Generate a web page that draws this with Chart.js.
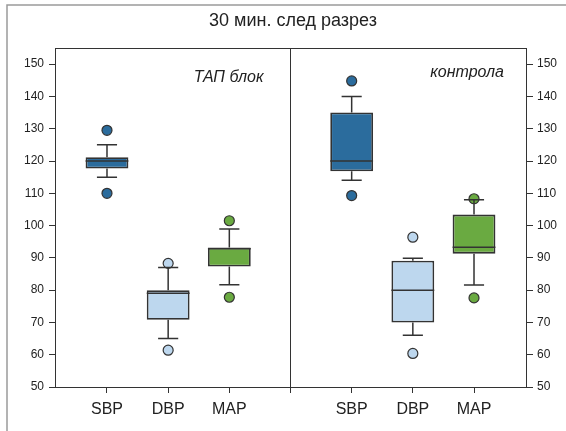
<!DOCTYPE html>
<html>
<head>
<meta charset="utf-8">
<script src="https://cdn.jsdelivr.net/npm/chart.js@4/dist/chart.umd.min.js"></script>
<style>
  body { margin: 0; background: #fff; }
  canvas { display: block; }
</style>
</head>
<body>
<canvas id="box" width="566" height="431"></canvas>
<script>
// data
const categories = ["SBP", "DBP", "MAP"];
const groupNames = ["ТАП блок", "контрола"];
const titleText = "30 мин. след разрез";

// ТАП блок
const tapLow = [115, 65, 81.7];
const tapQ1 = [117.7, 70.8, 87.3];
const tapMed = [120, 79, 92.8];
const tapQ3 = [121.2, 80, 93.2];
const tapHigh = [125, 87, 98.9];
const tapOutLow = [110, 61.4, 77.8];
const tapOutHigh = [129.5, 88.3, 101.5];

// контрола
const ctrlLow = [114, 66, 81.6];
const ctrlQ1 = [116.8, 70, 91.3];
const ctrlMed = [120, 80, 93.3];
const ctrlQ3 = [135, 89.1, 103.4];
const ctrlHigh = [140, 89.9, 108];
const ctrlOutLow = [109.3, 60.4, 77.6];
const ctrlOutHigh = [144.8, 96.4, 108.3];

const yTicks = [50, 60, 70, 80, 90, 100, 110, 120, 130, 140, 150];

const colors = ["#2b6c9d", "#bdd7ee", "#6aaa41"];
const edge = "#333333";

// x slots: group 1 at 1..3, divider at 4, group 2 at 5..7
const xTap = [1, 2, 3];
const xCtrl = [5, 6, 7];
const dividerAt = 4;
const xs = xTap.concat(xCtrl);

const low = tapLow.concat(ctrlLow);
const q1 = tapQ1.concat(ctrlQ1);
const med = tapMed.concat(ctrlMed);
const q3 = tapQ3.concat(ctrlQ3);
const high = tapHigh.concat(ctrlHigh);
const outLow = tapOutLow.concat(ctrlOutLow);
const outHigh = tapOutHigh.concat(ctrlOutHigh);
const boxColors = colors.concat(colors);

const font = "'Liberation Sans', Arial, sans-serif";

const boxData = xs.map((x, i) => ({ x: x, y: [q1[i], q3[i]] }));
const outData = [];
const outColors = [];
xs.forEach((x, i) => {
  outData.push({ x: x, y: outLow[i] });
  outColors.push(boxColors[i]);
  outData.push({ x: x, y: outHigh[i] });
  outColors.push(boxColors[i]);
});

const whiskers = {
  id: "whiskers",
  beforeDraw(chart) {
    const c = chart.ctx;
    c.save();
    c.strokeStyle = "#9a9a9a";
    c.lineWidth = 1.5;
    c.beginPath();
    c.moveTo(7, 431);
    c.lineTo(7, 5);
    c.lineTo(566, 5);
    c.stroke();
    c.fillStyle = "#222";
    c.font = "18px " + font;
    c.textAlign = "center";
    c.textBaseline = "middle";
    c.fillText(titleText, 293, 21);
    c.restore();
  },
  afterDatasetsDraw(chart) {
    const c = chart.ctx;
    const x = chart.scales.x;
    const y = chart.scales.y;
    const bars = chart.getDatasetMeta(1).data;
    c.save();
    c.strokeStyle = edge;
    c.lineWidth = 1.5;
    xs.forEach((v, i) => {
      const px = x.getPixelForValue(v);
      const w = bars[i].width;
      const cap = w * 0.235;
      c.beginPath();
      c.moveTo(px, y.getPixelForValue(q3[i]));
      c.lineTo(px, y.getPixelForValue(high[i]));
      c.moveTo(px, y.getPixelForValue(q1[i]));
      c.lineTo(px, y.getPixelForValue(low[i]));
      c.moveTo(px - cap, y.getPixelForValue(high[i]));
      c.lineTo(px + cap, y.getPixelForValue(high[i]));
      c.moveTo(px - cap, y.getPixelForValue(low[i]));
      c.lineTo(px + cap, y.getPixelForValue(low[i]));
      c.moveTo(px - w / 2, y.getPixelForValue(med[i]));
      c.lineTo(px + w / 2, y.getPixelForValue(med[i]));
      c.stroke();
    });
    // top edge of the plot
    const a = chart.chartArea;
    c.lineWidth = 1;
    c.beginPath();
    c.moveTo(a.left, a.top + 0.5);
    c.lineTo(a.right, a.top + 0.5);
    c.stroke();
    // panel labels
    c.fillStyle = "#222";
    c.font = "italic 16px " + font;
    c.textAlign = "right";
    c.textBaseline = "alphabetic";
    c.fillText(groupNames[0], x.getPixelForValue(dividerAt) - 27, 82);
    c.fillText(groupNames[1], a.right - 22, 77);
    c.restore();
  }
};

new Chart(document.getElementById("box"), {
  type: "bar",
  data: {
    datasets: [
      {
        type: "scatter",
        data: outData,
        backgroundColor: outColors,
        borderColor: edge,
        borderWidth: 1.2,
        pointRadius: 5,
        yAxisID: "y"
      },
      {
        type: "bar",
        data: boxData,
        backgroundColor: boxColors,
        borderColor: edge,
        borderWidth: 1.8,
        borderSkipped: false,
        barPercentage: 0.7,
        categoryPercentage: 1,
        yAxisID: "y"
      }
    ]
  },
  options: {
    responsive: false,
    animation: false,
    devicePixelRatio: 1,
    layout: { padding: { top: 48, left: 0, right: 0, bottom: 0 } },
    plugins: { legend: { display: false }, tooltip: { enabled: false }, title: { display: false } },
    scales: {
      x: {
        type: "linear",
        min: 0.15,
        max: 7.85,
        offset: false,
        afterBuildTicks: (s) => { s.ticks = [1, 2, 3, 4, 5, 6, 7].map(v => ({ value: v })); },
        afterFit: (s) => { s.height = 44; },
        ticks: {
          autoSkip: false,
          maxRotation: 0,
          padding: 7,
          color: "#222",
          font: { family: font, size: 16 },
          callback: (v) => {
            const i = xTap.indexOf(v);
            if (i >= 0) return categories[i];
            const j = xCtrl.indexOf(v);
            if (j >= 0) return categories[j];
            return "";
          }
        },
        grid: {
          offset: false,
          drawOnChartArea: true,
          color: (ctx) => (ctx.tick && ctx.tick.value === dividerAt ? edge : "rgba(0,0,0,0)"),
          tickColor: edge,
          tickLength: 6,
          lineWidth: 1
        },
        border: { display: true, color: edge, width: 1 }
      },
      y: {
        position: "left",
        min: 50,
        max: 155,
        afterBuildTicks: (s) => { s.ticks = yTicks.map(v => ({ value: v })); },
        afterFit: (s) => { s.width = 55; },
        ticks: { padding: 5, color: "#222", font: { family: font, size: 12 } },
        grid: { drawOnChartArea: false, tickColor: edge, tickLength: 6 },
        border: { display: true, color: edge, width: 1 }
      },
      y2: {
        position: "right",
        min: 50,
        max: 155,
        afterBuildTicks: (s) => { s.ticks = yTicks.map(v => ({ value: v })); },
        afterFit: (s) => { s.width = 40; },
        ticks: { padding: 4, color: "#222", font: { family: font, size: 12 } },
        grid: { drawOnChartArea: false, tickColor: edge, tickLength: 7 },
        border: { display: true, color: edge, width: 1 }
      }
    }
  },
  plugins: [whiskers]
});
</script>
</body>
</html>
